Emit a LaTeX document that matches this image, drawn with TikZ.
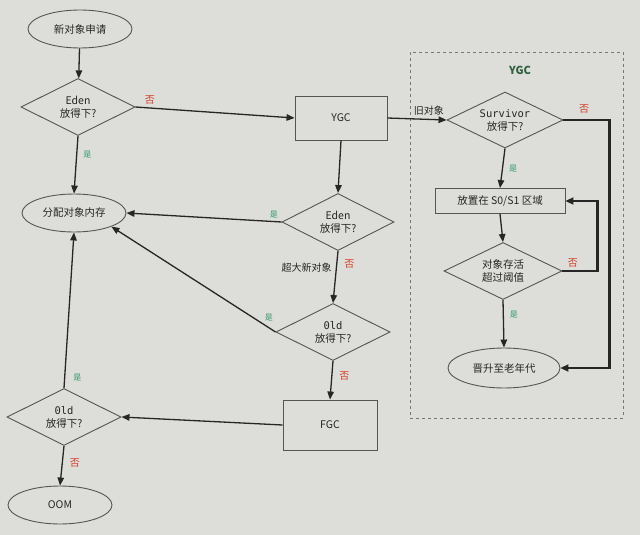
\documentclass[tikz,border=0pt]{standalone}
\usepackage{fontspec}
\setmainfont{Noto Sans CJK SC}
\newfontfamily\monof{DejaVu Sans Mono}
\usetikzlibrary{shapes.geometric,arrows.meta}
\definecolor{bg}{HTML}{DDDDD9}
\definecolor{ink}{HTML}{262626}
\definecolor{edge}{HTML}{555555}
\definecolor{nored}{HTML}{D2402A}
\definecolor{yesgreen}{HTML}{2E9A6A}
\definecolor{titlegreen}{HTML}{2F5F3C}
\tikzset{
  base/.style={draw=edge, line width=0.9pt, text=ink, font=\fontsize{10.5}{13}\selectfont, align=center, inner sep=1pt},
  oval/.style={base, ellipse, minimum width=104pt, minimum height=38pt},
  dia/.style={base, diamond, shape aspect=2, inner sep=0pt, minimum width=114pt, minimum height=57pt},
  boxnode/.style={base, rectangle, minimum width=92pt, minimum height=44pt},
  conn/.style={draw=ink, line width=1.3pt, -{Triangle[length=8pt,width=6.5pt]}},
  thickconn/.style={draw=ink, line width=2.2pt, -{Triangle[length=8pt,width=7pt]}},
  yes/.style={text=yesgreen, font=\fontsize{8}{9}\selectfont, inner sep=1pt},
  no/.style={text=nored, font=\fontsize{10}{11}\selectfont, inner sep=1pt},
  plain/.style={text=ink, font=\fontsize{10}{11}\selectfont, inner sep=1pt},
}
\begin{document}
\begin{tikzpicture}[x=1pt,y=-1pt]
\fill[bg] (0,0) rectangle (640,535);
\useasboundingbox (0,0) rectangle (640,535);

% YGC area
\node[draw=edge!80, dashed, line width=0.7pt, minimum width=213pt, minimum height=366pt, inner sep=0pt] (area) at (516.5,235) {};
\node[text=titlegreen, font=\bfseries\fontsize{11}{12}\selectfont] (areatitle) at (520,70) {YGC};

% left column
\node[oval] (start) at (80,29) {新对象申请};
\node[dia] (eden1) at (78,107) {Eden\\放得下?};
\node[oval] (alloc) at (74,213) {分配对象内存};
\node[dia] (old1) at (64,417) {{\monof 0ld}\\放得下?};
\node[oval] (oom) at (60,505) {OOM};

% middle column
\node[boxnode] (ygc) at (341,118) {YGC};
\node[dia, minimum width=112pt] (eden2) at (338,222) {Eden\\放得下?};
\node[dia] (old2) at (333,332) {{\monof 0ld}\\放得下?};
\node[boxnode, minimum width=94pt, minimum height=50pt] (fgc) at (330,425) {FGC};

% right column
\node[dia, minimum width=116pt, minimum height=56pt] (surv) at (505,120) {{\monof Survivor}\\放得下?};
\node[base, rectangle, minimum width=130pt, minimum height=25pt] (s0) at (500,201) {放置在 S0/S1 区域};
\node[dia, minimum width=118pt, minimum height=57pt] (alive) at (503,271) {对象存活\\超过阈值};
\node[oval, minimum width=112pt, minimum height=40pt] (promote) at (504,368) {晋升至老年代};

% connectors
\draw[conn] (start) -- (eden1);
\draw[conn] (eden1.east) -- (ygc.west) node[no, pos=0.09, above=2pt] {否};
\draw[conn] (eden1.south) -- (alloc.north) node[yes, pos=0.32, right=5pt] {是};
\draw[conn] (ygc.south) -- (eden2.north);
\draw[conn] (ygc.east) -- (surv.west) node[plain, pos=0.7, above=2pt] {旧对象};
\draw[conn] (eden2.west) -- (alloc.east) node[yes, pos=0.05, above=2pt] {是};
\draw[conn] (eden2.south) -- (old2.north) node[plain, pos=0.33, left=3pt] {超大新对象} node[no, pos=0.25, right=6pt] {否};
\draw[conn] (old2.west) -- (alloc.-20) node[yes, pos=0.04, above=5pt] {是};
\draw[conn] (old2.south) -- (fgc.north) node[no, pos=0.4, right=6pt] {否};
\draw[conn] (fgc.west) -- (old1.east);
\draw[conn] (old1.north) -- (alloc.south) node[yes, pos=0.07, right=7pt] {是};
\draw[conn] (old1.south) -- (oom.north) node[no, pos=0.42, right=6pt] {否};

\draw[conn] (surv.south) -- (s0.north) node[yes, pos=0.5, right=5pt] {是};
\draw[conn] (s0.south) -- (alive.north);
\draw[conn] (alive.south) -- (promote.north) node[yes, pos=0.3, right=5pt] {是};
\draw[thickconn] (surv.east) -- ++(46,0) node[no, pos=0.45, above=5pt] {否} |- (promote.east);
\draw[thickconn] (alive.east) -- ++(35,0) node[no, pos=0.3, above=2pt] {否} |- (s0.east);
\end{tikzpicture}
\end{document}
